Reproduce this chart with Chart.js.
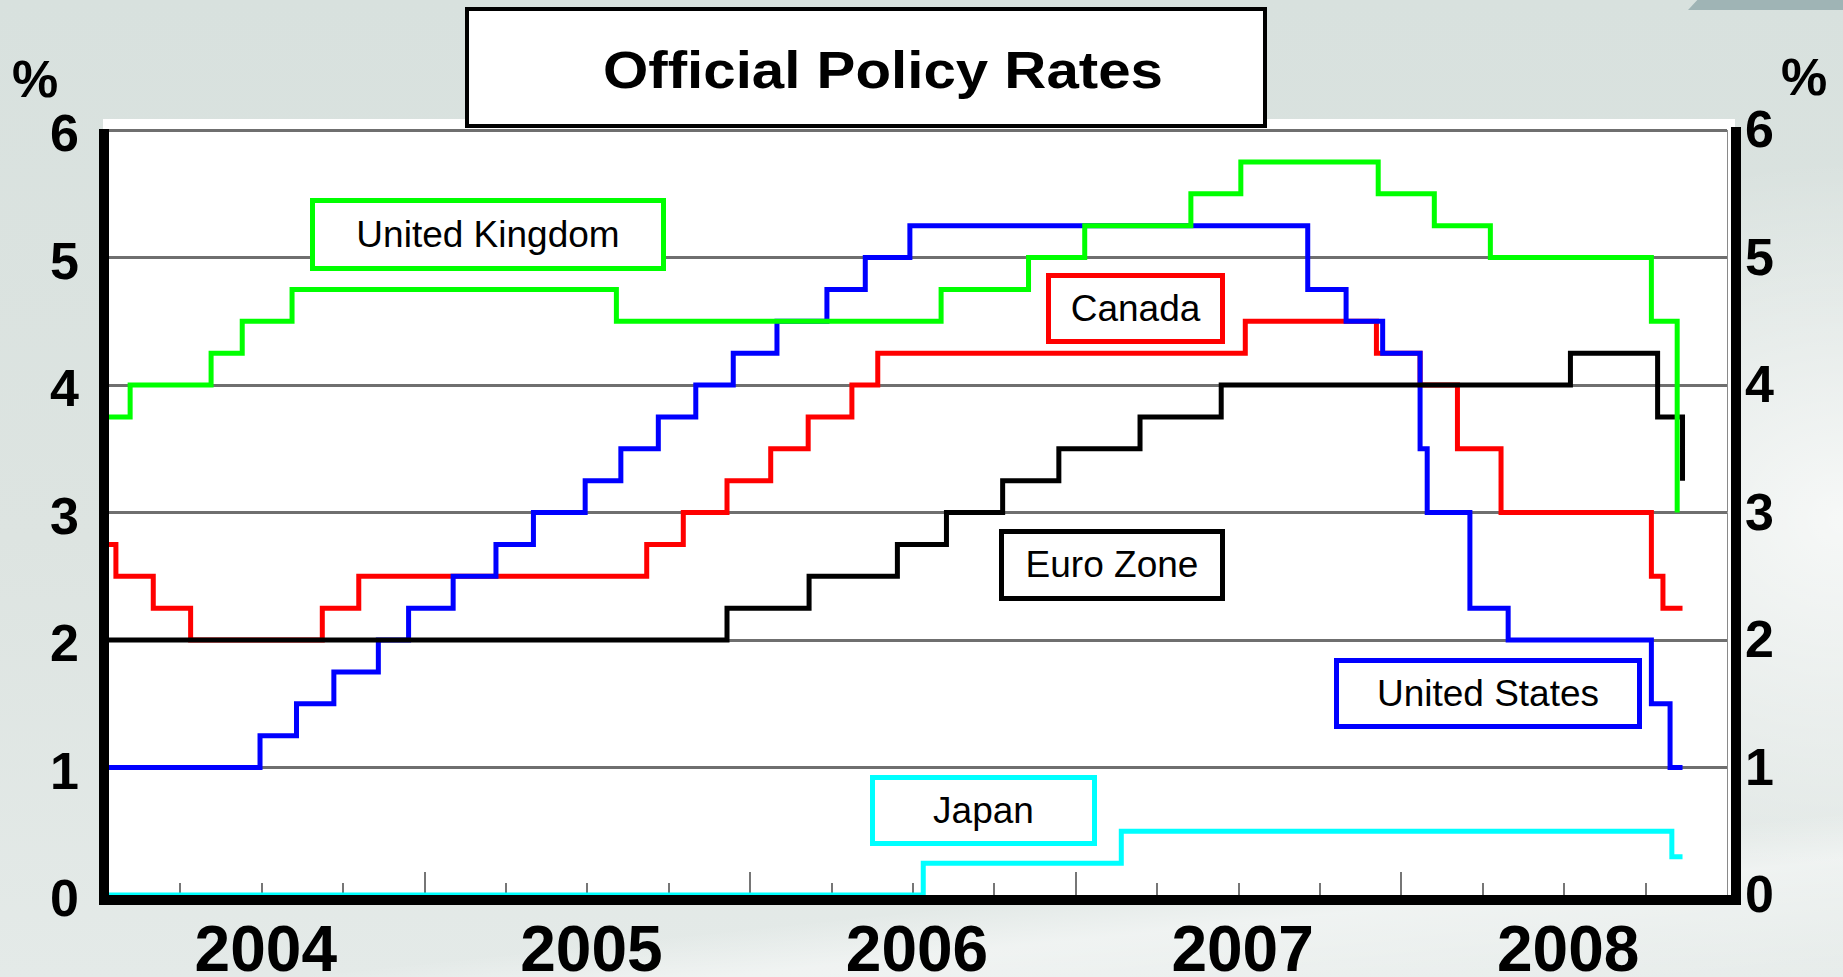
<!DOCTYPE html>
<html>
<head>
<meta charset="utf-8">
<title>Official Policy Rates</title>
<script src="https://cdn.jsdelivr.net/npm/chart.js@4.4.1/dist/chart.umd.min.js"></script>
<style>
  html, body { margin: 0; padding: 0; width: 1843px; height: 977px; overflow: hidden; }
  body {
    position: relative;
    font-family: 'Liberation Sans', Arial, sans-serif;
    background:
      radial-gradient(ellipse 420px 360px at 1843px 520px, rgba(255,255,255,0.75), rgba(255,255,255,0)),
      linear-gradient(174deg, rgba(255,255,255,0) 0%, rgba(255,255,255,0) 86%, rgba(255,255,255,0.45) 90%, rgba(255,255,255,0.1) 100%),
      linear-gradient(180deg, #d8e1de 0%, #dde4e1 55%, #e4eae8 100%);
  }
  #corner {
    position: absolute; left: 1688px; top: 0; width: 155px; height: 10px;
    background: #9fb4b5; clip-path: polygon(6% 0, 100% 0, 100% 100%, 0 100%);
  }
  #chart { position: absolute; left: 0; top: 0; }
  .box {
    position: absolute; box-sizing: border-box; background: #fff;
    border: 5px solid; display: flex; align-items: center; justify-content: center;
    font-size: 37px; color: #000; white-space: nowrap;
  }
  #title {
    left: 465px; top: 7px; width: 802px; height: 121px;
    border: 4px solid #000; padding-left: 34px; padding-top: 4px;
    font-size: 52px; font-weight: bold;
  }
  #title span { display: inline-block; transform: scaleX(1.12); }
</style>
</head>
<body>
<div id="corner"></div>
<canvas id="chart" width="1843" height="977"></canvas>
<div class="box" id="title"><span>Official Policy Rates</span></div>
<div class="box" style="left:310px;top:198px;width:356px;height:73px;border-color:#00ff00;">United Kingdom</div>
<div class="box" style="left:1046px;top:273px;width:179px;height:71px;border-color:#ff0000;">Canada</div>
<div class="box" style="left:999px;top:529px;width:226px;height:72px;border-color:#000000;">Euro Zone</div>
<div class="box" style="left:1334px;top:658px;width:308px;height:71px;border-color:#0000ff;">United States</div>
<div class="box" style="left:870px;top:775px;width:227px;height:71px;border-color:#00ffff;">Japan</div>
<script>
// Policy rate decisions: effective date and the new rate (%)
const ukDates = ['2004-01-01','2004-02-05','2004-05-06','2004-06-10','2004-08-05','2005-08-04','2006-08-03','2006-11-09','2007-01-11','2007-05-10','2007-07-05','2007-12-06','2008-02-07','2008-04-10','2008-10-08','2008-11-06'];
const ukRates = [3.75, 4.00, 4.25, 4.50, 4.75, 4.50, 4.75, 5.00, 5.25, 5.50, 5.75, 5.50, 5.25, 5.00, 4.50, 3.00];

const usDates = ['2004-01-01','2004-06-30','2004-08-10','2004-09-21','2004-11-10','2004-12-14','2005-02-02','2005-03-22','2005-05-03','2005-06-30','2005-08-09','2005-09-20','2005-11-01','2005-12-13','2006-01-31','2006-03-28','2006-05-10','2006-06-29','2007-09-18','2007-10-31','2007-12-11','2008-01-22','2008-01-30','2008-03-18','2008-04-30','2008-10-08','2008-10-29','2008-11-12'];
const usRates = [1.00, 1.25, 1.50, 1.75, 2.00, 2.25, 2.50, 2.75, 3.00, 3.25, 3.50, 3.75, 4.00, 4.25, 4.50, 4.75, 5.00, 5.25, 4.75, 4.50, 4.25, 3.50, 3.00, 2.25, 2.00, 1.50, 1.00, 1.00];

const caDates = ['2004-01-01','2004-01-20','2004-03-02','2004-04-13','2004-09-08','2004-10-19','2005-09-07','2005-10-18','2005-12-06','2006-01-24','2006-03-07','2006-04-25','2006-05-24','2007-07-10','2007-12-04','2008-01-22','2008-03-04','2008-04-22','2008-10-08','2008-10-21','2008-11-12'];
const caRates = [2.75, 2.50, 2.25, 2.00, 2.25, 2.50, 2.75, 3.00, 3.25, 3.50, 3.75, 4.00, 4.25, 4.50, 4.25, 4.00, 3.50, 3.00, 2.50, 2.25, 2.25];

const euDates = ['2004-01-01','2005-12-06','2006-03-08','2006-06-15','2006-08-09','2006-10-11','2006-12-13','2007-03-14','2007-06-13','2008-07-09','2008-10-15','2008-11-12'];
const euRates = [2.00, 2.25, 2.50, 2.75, 3.00, 3.25, 3.50, 3.75, 4.00, 4.25, 3.75, 3.25];

const jpDates = ['2004-01-01','2006-07-14','2007-02-21','2008-10-31','2008-11-12'];
const jpRates = [0.00, 0.25, 0.50, 0.30, 0.30];

const yearLabels = ['2004', '2005', '2006', '2007', '2008'];
const rateTicks = [0, 1, 2, 3, 4, 5, 6];

// date string -> fractional year, so the x axis can stay linear
function toYear(s) {
  const d = Date.parse(s + 'T00:00:00Z');
  const y = new Date(d).getUTCFullYear();
  const a = Date.UTC(y, 0, 1), b = Date.UTC(y + 1, 0, 1);
  return y + (d - a) / (b - a);
}
function series(dates, rates) {
  return dates.map((d, i) => ({ x: toYear(d), y: rates[i] }));
}

const FONT = "'Liberation Sans', Arial, sans-serif";
const firstYear = Number(yearLabels[0]);
const lastYear = Number(yearLabels[yearLabels.length - 1]) + 1;

function line(label, dates, rates, color) {
  return {
    label, data: series(dates, rates), borderColor: color, backgroundColor: color,
    borderWidth: 5, pointRadius: 0, stepped: true,
    borderJoinStyle: 'miter', borderCapStyle: 'butt', fill: false
  };
}

// plot frame: white panel, inner quarter ticks, heavy black axes, % units
const frame = {
  id: 'frame',
  beforeDraw(chart) {
    const { ctx, chartArea: a } = chart;
    ctx.save();
    ctx.fillStyle = '#ffffff';
    ctx.fillRect(a.left + 4, a.top - 11, a.right - a.left + 4, a.bottom - a.top + 11);
    ctx.restore();
  },
  beforeDatasetsDraw(chart) {
    const { ctx, chartArea: a, scales } = chart;
    ctx.save();
    ctx.strokeStyle = '#767676';
    ctx.lineWidth = 2;
    ctx.beginPath();
    scales.x.ticks.forEach(t => {
      const px = Math.round(scales.x.getPixelForValue(t.value));
      const len = Number.isInteger(t.value) ? 23 : 12;
      ctx.moveTo(px, a.bottom);
      ctx.lineTo(px, a.bottom - len);
    });
    ctx.stroke();
    ctx.lineWidth = 1;
    ctx.strokeStyle = '#8a8a8a';
    ctx.beginPath();
    ctx.moveTo(a.right + 0.5, a.top);
    ctx.lineTo(a.right + 0.5, a.bottom);
    ctx.stroke();
    ctx.restore();
  },
  afterDatasetsDraw(chart) {
    const { ctx, chartArea: a } = chart;
    ctx.save();
    ctx.fillStyle = '#000000';
    ctx.fillRect(a.left, a.top - 1, 10, a.bottom - a.top + 11);
    ctx.fillRect(a.left, a.bottom, a.right - a.left + 14, 10);
    ctx.fillRect(a.right + 4, a.top - 3, 10, a.bottom - a.top + 13);
    ctx.font = 'bold 52px ' + FONT;
    ctx.textAlign = 'center';
    ctx.textBaseline = 'middle';
    ctx.fillText('%', a.left - 64, a.top - 47);
    ctx.fillText('%', a.right + 77, a.top - 49);
    ctx.restore();
  }
};

const tickFont = { family: FONT, size: 52, weight: 'bold' };

// the first dataset in the list is painted on top
new Chart(document.getElementById('chart'), {
  type: 'line',
  data: {
    datasets: [
      line('United Kingdom', ukDates, ukRates, '#00ff00'),
      line('Euro Zone', euDates, euRates, '#000000'),
      line('United States', usDates, usRates, '#0000ff'),
      line('Canada', caDates, caRates, '#ff0000'),
      line('Japan', jpDates, jpRates, '#00ffff')
    ]
  },
  options: {
    responsive: false,
    animation: false,
    devicePixelRatio: 1,
    layout: { padding: { top: 130, left: 0, right: 0, bottom: 0 } },
    plugins: { legend: { display: false }, tooltip: { enabled: false }, title: { display: false } },
    scales: {
      x: {
        type: 'linear', min: firstYear, max: lastYear,
        afterFit: s => { s.height = 82; },
        afterBuildTicks: s => {
          const t = [];
          for (let q = 1; q < (lastYear - firstYear) * 4; q++) t.push({ value: firstYear + q / 4 });
          s.ticks = t;
        },
        grid: { display: false, drawTicks: false },
        border: { display: false },
        ticks: {
          autoSkip: false, maxRotation: 0, minRotation: 0, padding: 20, labelOffset: 4,
          color: '#000', font: { family: FONT, size: 64, weight: 'bold' },
          callback: v => (Math.abs(v % 1 - 0.5) < 1e-6 ? yearLabels[Math.floor(v) - firstYear] : '')
        }
      },
      y: {
        position: 'left', min: rateTicks[0], max: rateTicks[rateTicks.length - 1],
        afterFit: s => { s.width = 99; },
        afterBuildTicks: s => { s.ticks = rateTicks.map(v => ({ value: v })); },
        grid: {
          drawTicks: false, lineWidth: 3,
          color: c => (c.tick && c.tick.value === 0 ? 'rgba(0,0,0,0)' : '#6f6f6f')
        },
        border: { display: false },
        ticks: { padding: 20, labelOffset: 7, color: '#000', font: tickFont }
      },
      y2: {
        position: 'right', min: rateTicks[0], max: rateTicks[rateTicks.length - 1],
        afterFit: s => { s.width = 116; },
        afterBuildTicks: s => { s.ticks = rateTicks.map(v => ({ value: v })); },
        grid: { display: false, drawTicks: false },
        border: { display: false },
        ticks: { padding: 18, labelOffset: 3, color: '#000', font: tickFont }
      }
    }
  },
  plugins: [frame]
});
</script>
</body>
</html>
